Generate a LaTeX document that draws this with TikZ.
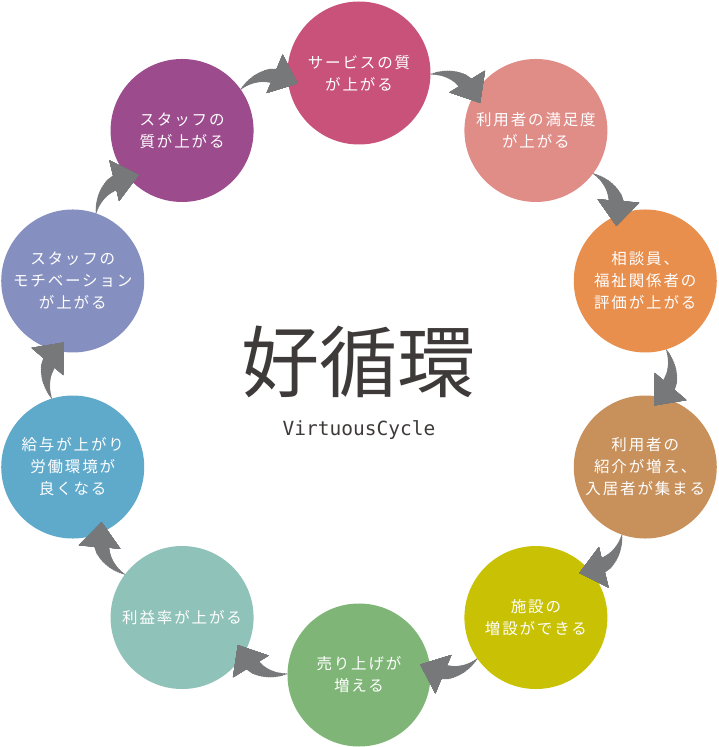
\documentclass[tikz,border=0pt]{standalone}
\usepackage{fontspec}
\setmainfont{Noto Sans CJK JP}
\newfontfamily\stepfont[LetterSpace=12]{Noto Sans CJK JP}
\newfontfamily\titlefont{Noto Sans CJK JP}
\newfontfamily\subfont{DejaVu Sans Mono}
\usetikzlibrary{arrows.meta}

\definecolor{step1}{HTML}{C8527A}
\definecolor{step2}{HTML}{E08D88}
\definecolor{step3}{HTML}{E88F4E}
\definecolor{step4}{HTML}{C8915B}
\definecolor{step5}{HTML}{C9C103}
\definecolor{step6}{HTML}{7FB677}
\definecolor{step7}{HTML}{8FC2B9}
\definecolor{step8}{HTML}{5FA9CB}
\definecolor{step9}{HTML}{8690C0}
\definecolor{step10}{HTML}{9C4B8D}
\definecolor{arrowgray}{HTML}{77787A}
\definecolor{inkgray}{HTML}{3E3A39}

\tikzset{
  bubble/.style={circle, minimum size=143pt, inner sep=0pt, align=center,
    text=white, font=\stepfont\fontsize{15.5}{22}\selectfont},
  flow/.style={draw=arrowgray, -{Triangle[length=25pt 0 0,width=40pt 0 0]}, shorten >=-11pt}
}

\begin{document}
\begin{tikzpicture}[x=1pt,y=1pt]
  \useasboundingbox (-359,-373) rectangle (359,374);
  % the ten steps, clockwise from the top
  \foreach \i/\txt in {1/{サービスの質\\が上がる},
                       2/{利用者の満足度\\が上がる},
                       3/{相談員、\\福祉関係者の\\評価が上がる},
                       4/{利用者の\\紹介が増え、\\入居者が集まる},
                       5/{施設の\\増設ができる},
                       6/{売り上げが\\増える},
                       7/{利益率が上がる},
                       8/{給与が上がり\\労働環境が\\良くなる},
                       9/{スタッフの\\モチベーション\\が上がる},
                       10/{スタッフの\\質が上がる}}
    \node[bubble, fill=step\i] (s\i) at ({126-36*\i}:301) {\txt};
  % centre title
  \node[text=inkgray, font=\titlefont\fontsize{78}{78}\selectfont] (title) at (0,12) {好循環};
  \node[text=inkgray, font=\subfont\fontsize{19.5}{20}\selectfont, anchor=base] (subtitle) at (0,-61) {VirtuousCycle};
  % arrows between neighbouring steps, tapered by stacking strokes
  \foreach \i in {1,...,10}{
    \pgfmathtruncatemacro{\j}{mod(\i,10)+1}
    \pgfmathtruncatemacro{\ta}{35-36*\i}
    \pgfmathtruncatemacro{\ha}{185-36*\i}
    \foreach \k in {0,...,15}{
      \pgfmathsetmacro{\p}{0.042*\k}
      \pgfmathsetmacro{\w}{0.85*\k+1}
      \pgfmathsetmacro{\b}{34*(1-\p)}
      \path (s\i.\ta) to[bend left=34] coordinate[pos=\p] (m) (s\j.\ha);
      \draw[flow, line width=\w pt] (m) to[bend left=\b] (s\j.\ha);
    }
  }
\end{tikzpicture}
\end{document}
